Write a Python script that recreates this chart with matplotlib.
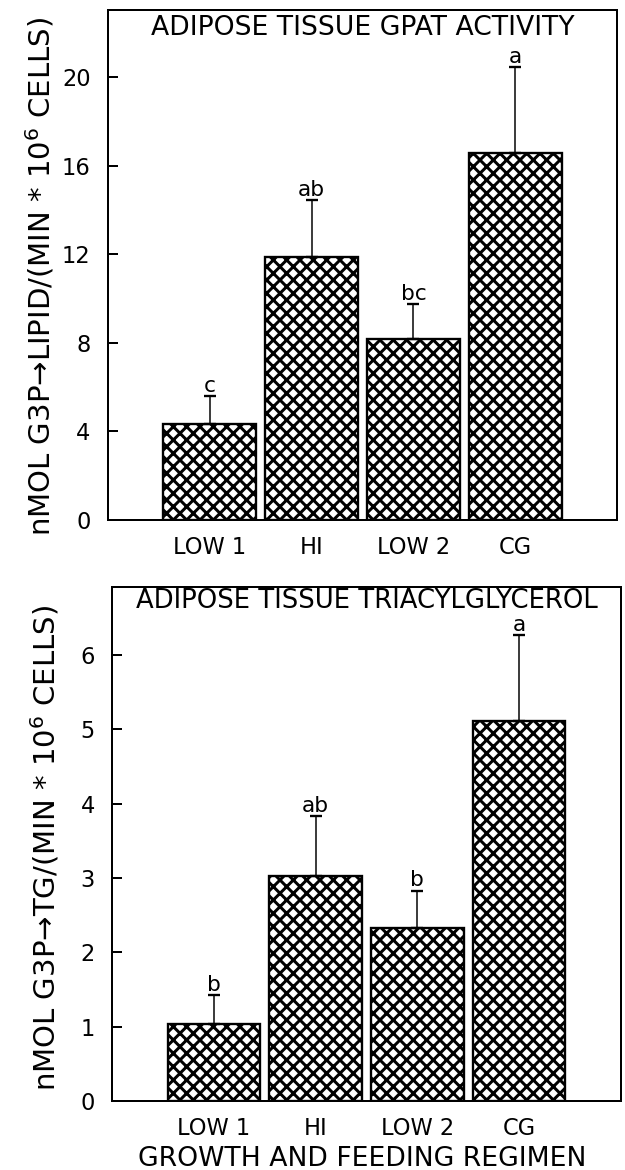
import matplotlib
matplotlib.use('Agg')
from matplotlib import pyplot as plt

# Datos
groups = ['LOW 1', 'HI', 'LOW 2', 'CG']

gpat_mean = [4.32, 11.9, 8.19, 16.57]
gpat_err = [1.28, 2.54, 1.57, 3.91]
gpat_letters = ['c', 'ab', 'bc', 'a']
gpat_ticks = [0, 4, 8, 12, 16, 20]

tg_mean = [1.04, 3.02, 2.32, 5.11]
tg_err = [0.38, 0.81, 0.51, 1.16]
tg_letters = ['b', 'ab', 'b', 'a']
tg_ticks = [0, 1, 2, 3, 4, 5, 6]

plt.rcParams['font.family'] = ['DejaVu Sans']
plt.rcParams['hatch.linewidth'] = 1.8
plt.rcParams['mathtext.default'] = 'regular'


def draw_panel(ax, means, errs, letters, yticks, ymax, title, title_y,
               title_size, ylabel, ylab_y):
    x = list(range(len(groups)))
    ax.bar(x, means, width=0.91, color='white', edgecolor='black',
           linewidth=1.4, hatch='xxx', zorder=2)
    ax.errorbar(x, means, yerr=[[0] * len(errs), errs], fmt='none',
                ecolor='black', elinewidth=0.9, capsize=3.6, capthick=1.4,
                zorder=3)
    # letras de significancia
    for xi, m, e, lab in zip(x, means, errs, letters):
        ax.annotate(lab, (xi, m + e), xytext=(0, 2.5),
                    textcoords='offset points', ha='center', va='baseline',
                    fontsize=13)

    ax.set_xlim(-1.0, 4.0)
    ax.set_ylim(0, ymax)
    ax.set_xticks(x)
    ax.set_xticklabels(groups)
    ax.set_yticks(yticks)
    ax.tick_params(axis='x', length=0, pad=9.5, labelsize=13.5)
    ax.tick_params(axis='y', direction='in', length=6, width=1.2,
                   pad=10.5, labelsize=13.5)
    for sp in ax.spines.values():
        sp.set_linewidth(1.2)

    ax.text(0.5, title_y, title, transform=ax.transAxes, ha='center',
            va='baseline', fontsize=title_size)
    ax.set_ylabel(ylabel, fontsize=17.5, va='baseline')
    ax.yaxis.set_label_coords(-0.112, ylab_y)


fig = plt.figure(figsize=(625 / 120, 1170 / 120), dpi=120)
ax1 = fig.add_axes([0.1728, 0.5556, 0.8144, 0.4359])
ax2 = fig.add_axes([0.1797, 0.0590, 0.8134, 0.4391])

draw_panel(ax1, gpat_mean, gpat_err, gpat_letters, gpat_ticks, 23.05,
           'ADIPOSE TISSUE GPAT ACTIVITY', 0.951, 16,
           r'nMOL G3P→LIPID/(MIN * 10$^6$ CELLS)', 0.477)
draw_panel(ax2, tg_mean, tg_err, tg_letters, tg_ticks, 6.91,
           'ADIPOSE TISSUE TRIACYLGLYCEROL', 0.96, 15.5,
           r'nMOL G3P→TG/(MIN * 10$^6$ CELLS)', 0.492)

ax2.set_xlabel('GROWTH AND FEEDING REGIMEN', fontsize=16, va='baseline')
ax2.xaxis.set_label_coords(0.492, -0.1265)

plt.savefig('out.png', dpi=120)
plt.close()
